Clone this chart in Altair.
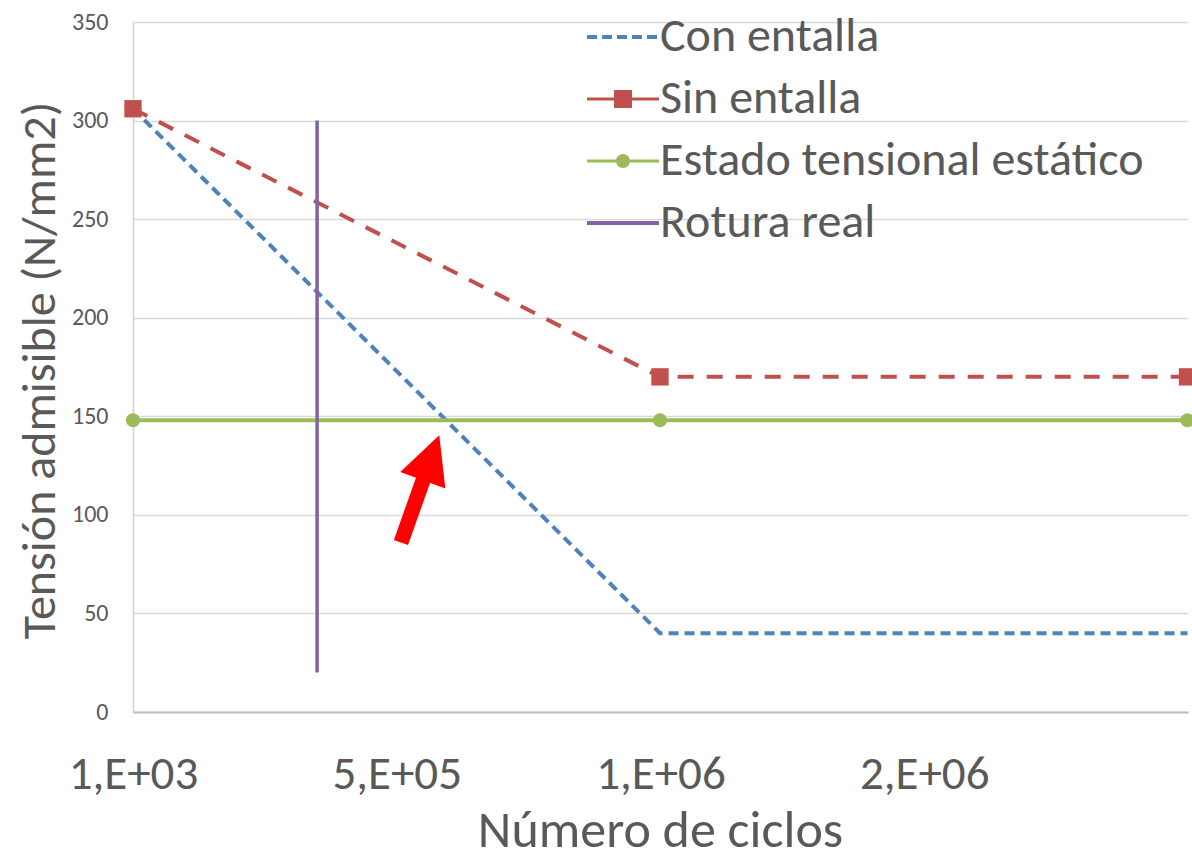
import altair as alt
import pandas as pd

# ---- data ----
x_cycles = [1000, 1000000, 2000000]
con_entalla = [306, 40, 40]
sin_entalla = [306, 170, 170]
estado_estatico = [148, 148, 148]
rotura_x = [350000]
rotura_y = [20]
rotura_y2 = [300]

series_names = ["Con entalla", "Sin entalla", "Estado tensional estático", "Rotura real"]
series_colors = ["#4F81BD", "#C0504D", "#9BBB59", "#8064A2"]

x_tick_values = [1000, 501000, 1001000, 1501000]
x_tick_labels = ["1,E+03", "5,E+05", "1,E+06", "2,E+06"]
y_tick_values = [0, 50, 100, 150, 200, 250, 300, 350]

# red annotation arrow (data coordinates): tail -> head centre
arrow_x = [509000, 566000]
arrow_y = [86, 129]
arrow_head_x = [566000]
arrow_head_y = [129]

FONT = "Carlito, Lato, sans-serif"
TXT = "#595959"

# legend symbol paths (line + marker), unit = sqrt(size)/2
legend_paths = [
    "M-1.8,-0.1H-1.3V0.1H-1.8Z M-1.05,-0.1H-0.55V0.1H-1.05Z M-0.3,-0.1H0.2V0.1H-0.3Z "
    "M0.45,-0.1H0.95V0.1H0.45Z M1.2,-0.1H1.7V0.1H1.2Z",
    "M-1.8,-0.08H-0.45V0.08H-1.8Z M0.45,-0.08H1.8V0.08H0.45Z M-0.45,-0.45H0.45V0.45H-0.45Z",
    "M-1.8,-0.08H-0.35V0.08H-1.8Z M0.35,-0.08H1.8V0.08H0.35Z "
    "M-0.35,0A0.35,0.35,0,1,1,0.35,0A0.35,0.35,0,1,1,-0.35,0Z",
    "M-1.8,-0.1H1.8V0.1H-1.8Z",
]

x_scale = alt.Scale(domain=[1000, 2001000], nice=False, zero=False)
y_scale = alt.Scale(domain=[0, 350], nice=False, zero=True)

x_axis = alt.Axis(
    values=x_tick_values,
    labelExpr="%s[indexof(%s, datum.value)]" % (
        "[" + ",".join("'%s'" % s for s in x_tick_labels) + "]",
        "[" + ",".join(str(v) for v in x_tick_values) + "]",
    ),
    title="Número de ciclos",
    grid=False, ticks=False, tickSize=0,
    domain=True, domainColor="#BFBFBF", domainWidth=2,
    labelFont=FONT, labelFontSize=47, labelColor=TXT, labelPadding=76,
    labelBaseline="alphabetic", labelFlush=False, labelOverlap=False,
    titleFont=FONT, titleFontSize=52, titleColor=TXT, titleFontWeight="normal",
    titleX=527, titleY=134, titleBaseline="alphabetic", titleAnchor="middle",
)
y_axis = alt.Axis(
    values=y_tick_values,
    title="Tensión admisible (N/mm2)",
    grid=True, gridColor="#D9D9D9", gridWidth=1.5,
    ticks=False, tickSize=0,
    domain=True, domainColor="#D0D0D0", domainWidth=1.5,
    labelFont=FONT, labelFontSize=24, labelColor=TXT, labelPadding=25,
    titleFont=FONT, titleFontSize=48, titleColor=TXT, titleFontWeight="normal",
    titleX=-93, titleY=348, titleAngle=-90, titleBaseline="middle", titleAlign="center",
)


def X(field="x"):
    return alt.X(f"{field}:Q", scale=x_scale, axis=x_axis)


def Y(field="y"):
    return alt.Y(f"{field}:Q", scale=y_scale, axis=y_axis)


df_con = pd.DataFrame({"x": x_cycles, "y": con_entalla})
df_sin = pd.DataFrame({"x": x_cycles, "y": sin_entalla})
df_est = pd.DataFrame({"x": x_cycles, "y": estado_estatico})
df_rot = pd.DataFrame({"x": rotura_x, "y": rotura_y, "y2": rotura_y2})
df_arrow = pd.DataFrame({"x": arrow_x, "y": arrow_y})
df_head = pd.DataFrame({"x": arrow_head_x, "y": arrow_head_y})
df_leg = pd.DataFrame({"serie": series_names})

con_line = alt.Chart(df_con).mark_line(
    color=series_colors[0], strokeWidth=4, strokeDash=[10, 6]
).encode(x=X(), y=Y())

sin_line = alt.Chart(df_sin).mark_line(
    color=series_colors[1], strokeWidth=4, strokeDash=[16, 13]
).encode(x=X(), y=Y())
sin_pts = alt.Chart(df_sin).mark_point(
    shape="square", filled=True, size=300, color=series_colors[1], opacity=1
).encode(x=X(), y=Y())

est_line = alt.Chart(df_est).mark_line(
    color=series_colors[2], strokeWidth=4
).encode(x=X(), y=Y())
est_pts = alt.Chart(df_est).mark_point(
    shape="circle", filled=True, size=200, color=series_colors[2], opacity=1
).encode(x=X(), y=Y())

rot_rule = alt.Chart(df_rot).mark_rule(
    color=series_colors[3], strokeWidth=3.5
).encode(x=X(), y=Y(), y2="y2:Q")

arrow_shaft = alt.Chart(df_arrow).mark_line(
    color="#FF0000", strokeWidth=15, strokeCap="butt"
).encode(x=X(), y=Y())
arrow_head = alt.Chart(df_head).mark_point(
    shape="M0,-1L1,1L-1,1Z", angle=20, size=2304, filled=True,
    color="#FF0000", opacity=1, strokeWidth=0
).encode(x=X(), y=Y())

leg = alt.Legend(
    title=None, orient="none", legendX=466, legendY=-9,
    labelFont=FONT, labelFontSize=48, labelColor=TXT, labelLimit=0,
    labelOffset=13, rowPadding=14, symbolSize=1600, symbolStrokeWidth=0,
    padding=0, symbolOpacity=1,
)

legend_layer = alt.Chart(df_leg).transform_filter("false").mark_point(
    filled=True, opacity=1, size=1600, strokeWidth=0
).encode(
    color=alt.Color("serie:N", scale=alt.Scale(domain=series_names, range=series_colors), legend=leg),
    shape=alt.Shape("serie:N", scale=alt.Scale(domain=series_names, range=legend_paths), legend=leg),
)

chart = alt.layer(
    con_line, sin_line, est_line, rot_rule, sin_pts, est_pts,
    arrow_shaft, arrow_head, legend_layer,
).properties(
    width=1055, height=690,
    padding={"left": 133, "top": 22, "right": 4, "bottom": 146},
    autosize=alt.AutoSizeParams(type="none"),
    background="white",
).configure_view(stroke=None)

chart.save("out.html", embed_options={"renderer": "svg", "actions": False})
